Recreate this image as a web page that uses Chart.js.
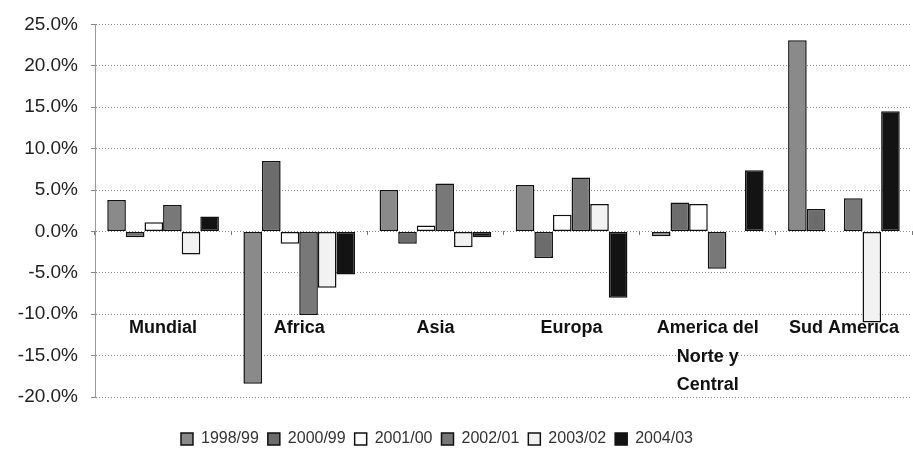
<!DOCTYPE html>
<html>
<head>
<meta charset="utf-8">
<script src="https://cdn.jsdelivr.net/npm/chart.js@4.4.1/dist/chart.umd.min.js"></script>
<style>
    html, body { margin: 0; padding: 0; background: #fff; }
    #wrap { width: 913px; height: 463px; }
</style>
</head>
<body>
<div id="wrap"><canvas id="growthChart" width="913" height="463"></canvas></div>
<script>
// Regions (x categories)
const regions = [
    'Mundial', 'Africa', 'Asia', 'Europa',
    ['America del', 'Norte y', 'Central'], 'Sud America'
];

// Series names
const seriesNames = ['1998/99', '2000/99', '2001/00', '2002/01', '2003/02', '2004/03'];

// Growth values (%) per region
const s1998 = [3.8, -18.4, 5.0, 5.6, -0.6, 23.1];
const s2000 = [-0.7, 8.5, -1.5, -3.2, 3.5, 2.7];
const s2001 = [1.1, -1.5, 0.7, 2.0, 3.3, 0.0];
const s2002 = [3.2, -10.1, 5.8, 6.5, -4.5, 4.0];
const s2003 = [-2.8, -6.8, -1.9, 3.3, 0.0, -11.0];
const s2004 = [1.8, -5.2, -0.7, -8.0, 7.4, 14.5];

// y axis ticks
const yMin = -20;
const yMax = 25;
const yStep = 5;

const barColors = ['#8a8a8a', '#6c6c6c', '#ffffff', '#787878', '#f2f2f2', '#131313'];

const seriesData = [s1998, s2000, s2001, s2002, s2003, s2004];

const datasets = seriesData.map((values, i) => ({
    label: seriesNames[i],
    data: values,
    backgroundColor: barColors[i],
    borderColor: '#111',
    borderWidth: 1.5,
    borderSkipped: false,
    barPercentage: 1.0,
    categoryPercentage: 0.82
}));

// nudge the legend a bit to the left, like the original
const legendShift = {
    id: 'legendShift',
    afterLayout(chart) {
        if (chart.legend) {
            chart.legend.left -= 19;
            chart.legend.right -= 19;
        }
    }
};

const fontFamily = 'Arial, "Liberation Sans", sans-serif';
const ctx = document.getElementById('growthChart').getContext('2d');

new Chart(ctx, {
    type: 'bar',
    data: {
        labels: regions,
        datasets: datasets
    },
    plugins: [legendShift],
    options: {
        responsive: false,
        animation: false,
        layout: {
            padding: { top: 10, right: 1, left: 0, bottom: 6 }
        },
        plugins: {
            legend: {
                position: 'bottom',
                labels: {
                    boxWidth: 12,
                    boxHeight: 12,
                    padding: 9,
                    color: '#333',
                    font: { family: fontFamily, size: 16 }
                }
            },
            tooltip: { enabled: false }
        },
        scales: {
            x: {
                type: 'category',
                position: { y: -10 },
                z: 1,
                grid: { display: false, drawTicks: false },
                border: { display: false },
                ticks: {
                    padding: 0,
                    color: '#111',
                    maxRotation: 0,
                    autoSkip: false,
                    font: {
                        family: fontFamily,
                        size: 18,
                        weight: 'bold',
                        lineHeight: 1.58
                    }
                }
            },
            x2: {
                type: 'category',
                position: { y: 0 },
                ticks: { display: false },
                border: { display: false },
                grid: {
                    offset: true,
                    drawOnChartArea: false,
                    tickLength: 4,
                    tickColor: '#777'
                }
            },
            // empty strip that keeps the legend away from the plot
            xGap: {
                type: 'category',
                position: 'bottom',
                ticks: { display: false },
                grid: { display: false, drawTicks: false },
                border: { display: false },
                afterFit: scale => { scale.height = 25; }
            },
            y: {
                min: yMin,
                max: yMax,
                afterFit: scale => { scale.width = 95; },
                ticks: {
                    stepSize: yStep,
                    padding: 13,
                    color: '#222',
                    font: { family: fontFamily, size: 19 },
                    callback: v => v.toFixed(1) + '%'
                },
                grid: {
                    color: '#8a8a8a',
                    tickLength: 4,
                    tickColor: '#888'
                },
                border: {
                    color: '#999',
                    dash: [1, 2]
                }
            }
        }
    }
});
</script>
</body>
</html>
